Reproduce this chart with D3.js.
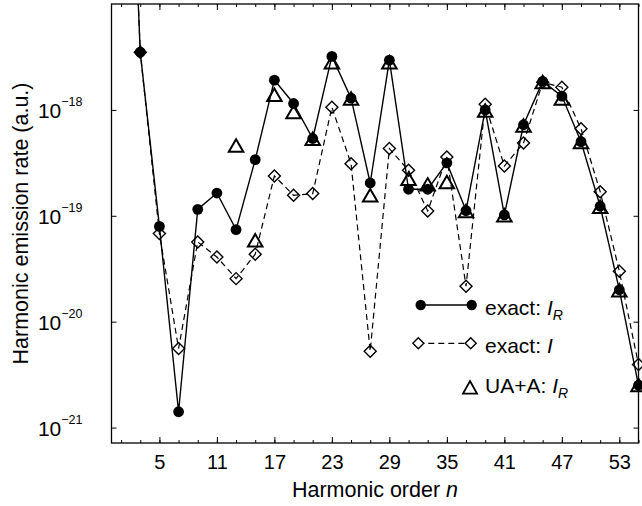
<!DOCTYPE html>
<html>
<head>
<meta charset="utf-8">
<script src="https://cdn.jsdelivr.net/npm/d3@7"></script>
<style>
  html, body { margin: 0; padding: 0; background: #fff; }
  svg { display: block; font-family: "Liberation Sans", Arial, Helvetica, sans-serif; }
</style>
</head>
<body>
<svg id="chart" width="642" height="506"></svg>
<script>
// ---- data ----
const harmonics = [1,3,5,7,9,11,13,15,17,19,21,23,25,27,29,31,33,35,37,39,41,43,45,47,49,51,53,55];
const exactIR = [1e-13,3.51e-18,7.94e-20,1.41e-21,1.15e-19,1.64e-19,7.41e-20,3.39e-19,1.91e-18,1.15e-18,
                 5.37e-19,3.20e-18,1.29e-18,2.04e-19,2.95e-18,1.78e-19,1.78e-19,3.16e-19,1.12e-19,1.0e-18,
                 1.02e-19,7.24e-19,1.86e-18,1.35e-18,5.01e-19,1.23e-19,2.0e-20,2.51e-21];
const exactI = [1e-13,3.51e-18,6.79e-20,5.58e-21,5.66e-20,4.08e-20,2.55e-20,4.34e-20,2.38e-19,1.56e-19,
                1.62e-19,1.06e-18,3.10e-19,5.27e-21,4.31e-19,2.69e-19,1.11e-19,3.59e-19,2.16e-20,1.13e-18,
                2.95e-19,4.86e-19,1.82e-18,1.64e-18,6.65e-19,1.69e-19,2.99e-20,3.94e-21];
const uaHarmonics = [13,15,17,19,21,23,25,27,29,31,33,35,37,39,41,43,45,47,49,51,53,55];
const uaIR = [4.62e-19,5.87e-20,1.39e-18,9.53e-19,5.35e-19,2.82e-18,1.28e-18,1.56e-19,2.82e-18,2.24e-19,
              1.98e-19,2.08e-19,1.11e-19,9.89e-19,1.01e-19,7.14e-19,1.83e-18,1.28e-18,4.97e-19,1.22e-19,
              1.98e-20,2.52e-21];
const xMinorTicks = [1,3,5,7,9,11,13,15,17,19,21,23,25,27,29,31,33,35,37,39,41,43,45,47,49,51,53,55];
const xMajorTicks = [5,11,17,23,29,35,41,47,53];
const yTicks = [1e-17,1e-18,1e-19,1e-20,1e-21];
const yTickExps = ["", "\u221218", "\u221219", "\u221220", "\u221221"];
const legendLabels = ["exact: ", "exact: ", "UA+A: "];

// ---- layout ----
const L = 111.5, R = 638.5, T = 4, B = 443;
const svg = d3.select("#chart");
const x = d3.scaleLinear().domain([0, 55]).range([L, R]);
const y = d3.scaleLog().domain([7.15e-22, 1e-17]).range([B, T]);

svg.append("defs").append("clipPath").attr("id", "clip")
  .append("rect").attr("x", L).attr("y", T).attr("width", R - L).attr("height", B - T);

// ---- axes ----
function styleAxis(g) {
  g.select(".domain").remove();
  g.selectAll(".tick line").attr("stroke", "#000").attr("stroke-width", 1);
}
// bottom
svg.append("g").attr("transform", `translate(0,${B})`)
  .call(d3.axisBottom(x).tickValues(xMinorTicks).tickSize(-3).tickFormat(""))
  .call(styleAxis);
const bx = svg.append("g").attr("transform", `translate(0,${B})`)
  .call(d3.axisBottom(x).tickValues(xMajorTicks).tickSize(-6).tickPadding(12).tickFormat(d3.format("d")))
  .call(styleAxis);
bx.selectAll("text").attr("fill", "#000").attr("font-size", 20).attr("font-family", null);
// top
svg.append("g").attr("transform", `translate(0,${T})`)
  .call(d3.axisTop(x).tickValues(xMinorTicks).tickSize(-3).tickFormat(""))
  .call(styleAxis);
svg.append("g").attr("transform", `translate(0,${T})`)
  .call(d3.axisTop(x).tickValues(xMajorTicks).tickSize(-6).tickFormat(""))
  .call(styleAxis);
// left
const ly = svg.append("g").attr("transform", `translate(${L},0)`)
  .call(d3.axisLeft(y).tickValues(yTicks.slice(1)).tickSize(-5).tickFormat(""))
  .call(styleAxis);
ly.selectAll(".tick").each(function(d, i) {
  const t = d3.select(this).append("text")
    .attr("x", -29).attr("y", 7.8).attr("text-anchor", "end").attr("fill", "#000");
  t.append("tspan").attr("font-size", 21).text("10");
  t.append("tspan").attr("font-size", 12.5).attr("dy", -12.3).text(yTickExps[i + 1]);
});
// right
svg.append("g").attr("transform", `translate(${R},0)`)
  .call(d3.axisRight(y).tickValues(yTicks.slice(1)).tickSize(-5).tickFormat(""))
  .call(styleAxis);
// frame
svg.append("rect").attr("x", L).attr("y", T).attr("width", R - L).attr("height", B - T)
  .attr("fill", "none").attr("stroke", "#000").attr("stroke-width", 1.3);

// ---- titles ----
const xt = svg.append("text").attr("x", (L + R) / 2).attr("y", 497).attr("text-anchor", "middle")
  .attr("font-size", 21.5).attr("fill", "#000");
xt.append("tspan").text("Harmonic order ");
xt.append("tspan").attr("font-style", "italic").text("n");
svg.append("text").attr("transform", `translate(28,${(T + B) / 2}) rotate(-90)`)
  .attr("text-anchor", "middle").attr("font-size", 21.5).attr("fill", "#000")
  .text("Harmonic emission rate (a.u.)");

// ---- marks ----
const plot = svg.append("g").attr("clip-path", "url(#clip)");
const lineGen = d3.line().x(d => x(d[0])).y(d => y(d[1]));
const ptsIR = harmonics.map((n, i) => [n, exactIR[i]]);
const ptsI = harmonics.map((n, i) => [n, exactI[i]]);
const ptsUA = uaHarmonics.map((n, i) => [n, uaIR[i]]);

plot.append("path").datum(ptsI).attr("d", lineGen)
  .attr("fill", "none").attr("stroke", "#000").attr("stroke-width", 1.2).attr("stroke-dasharray", "6,4");
plot.append("path").datum(ptsIR).attr("d", lineGen)
  .attr("fill", "none").attr("stroke", "#000").attr("stroke-width", 1.4);

const diamondPath = s => `M0,${-s}L${s},0L0,${s}L${-s},0Z`;
const triPath = (w, h) => `M0,${-h / 2}L${w / 2},${h / 2}L${-w / 2},${h / 2}Z`;

const mk = svg.append("g");
mk.selectAll("path.dia").data(ptsI.filter(d => d[0] > 1)).join("path").attr("class", "dia")
  .attr("transform", d => `translate(${x(d[0])},${y(d[1])})`)
  .attr("d", diamondPath(6)).attr("fill", "none").attr("stroke", "#000").attr("stroke-width", 1.4);
mk.selectAll("circle.cir").data(ptsIR.filter(d => d[0] > 1)).join("circle").attr("class", "cir")
  .attr("cx", d => x(d[0])).attr("cy", d => y(d[1])).attr("r", 5.4).attr("fill", "#000");
mk.selectAll("path.tri").data(ptsUA).join("path").attr("class", "tri")
  .attr("transform", d => `translate(${x(d[0])},${y(d[1])})`)
  .attr("d", triPath(14.5, 12.5)).attr("fill", "none").attr("stroke", "#000").attr("stroke-width", 2)
  .attr("stroke-linejoin", "miter");

// ---- legend ----
const lg = svg.append("g");
// row 1
lg.append("line").attr("x1", 420.7).attr("x2", 471.7).attr("y1", 305).attr("y2", 305)
  .attr("stroke", "#000").attr("stroke-width", 1.4);
lg.selectAll("circle.lc").data([420.7, 471.7]).join("circle").attr("class", "lc")
  .attr("cx", d => d).attr("cy", 305).attr("r", 5.2).attr("fill", "#000");
// row 2
lg.append("line").attr("x1", 418.3).attr("x2", 470.7).attr("y1", 343.3).attr("y2", 343.3)
  .attr("stroke", "#000").attr("stroke-width", 1.2).attr("stroke-dasharray", "6,4");
lg.selectAll("path.ld").data([418.3, 470.7]).join("path").attr("class", "ld")
  .attr("transform", d => `translate(${d},343.3)`).attr("d", diamondPath(5.5))
  .attr("fill", "#fff").attr("stroke", "#000").attr("stroke-width", 1.4);
// row 3
lg.append("path").attr("transform", "translate(470,387.3)").attr("d", triPath(14, 12.5))
  .attr("fill", "none").attr("stroke", "#000").attr("stroke-width", 1.8);

const rowsY = [315, 353, 393];
legendLabels.forEach((lab, i) => {
  const t = lg.append("text").attr("x", 485).attr("y", rowsY[i]).attr("font-size", 21).attr("fill", "#000");
  t.append("tspan").text(lab);
  t.append("tspan").attr("font-style", "italic").text("I");
  if (i !== 1) {
    t.append("tspan").attr("font-style", "italic").attr("font-size", 14).attr("dy", 5).text("R");
  }
});
</script>
</body>
</html>
